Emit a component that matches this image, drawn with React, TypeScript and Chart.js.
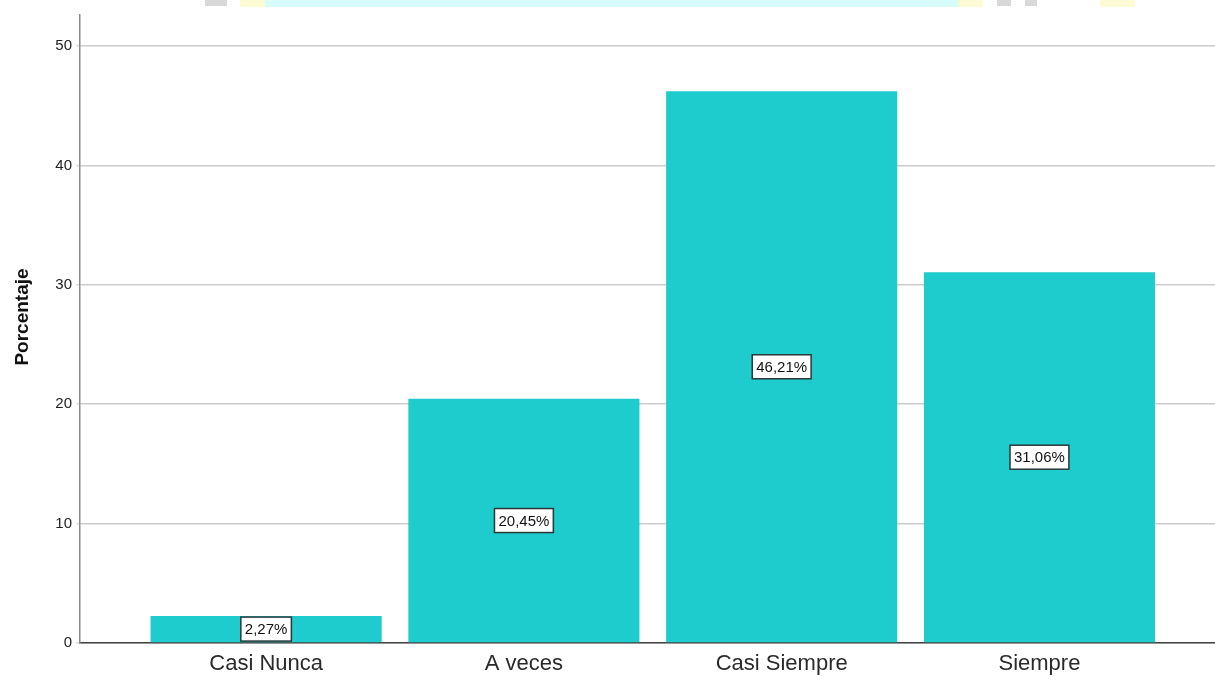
import React, { useEffect, useRef } from "react";
import { Chart, registerables } from "chart.js";

Chart.register(...registerables);

const categories = ["Casi Nunca", "A veces", "Casi Siempre", "Siempre"];
const percentages = [2.27, 20.45, 46.21, 31.06];
const positions = [1, 2, 3, 4];
const yTicks = [0, 10, 20, 30, 40, 50];
const yTitle = "Porcentaje";

const FONT = "'Liberation Sans', Arial, sans-serif";

const labelPlugin = {
  id: "barLabels",
  afterDatasetsDraw(chart: any) {
    const ctx = chart.ctx;
    const meta = chart.getDatasetMeta(0);
    ctx.save();
    ctx.font = `15px ${FONT}`;
    ctx.textAlign = "center";
    ctx.textBaseline = "middle";
    meta.data.forEach((el: any, i: number) => {
      const v = percentages[i];
      const text = v.toFixed(2).replace(".", ",") + "%";
      const cx = el.x;
      const cy = (el.y + el.base) / 2;
      const w = ctx.measureText(text).width + 8;
      const h = 24;
      ctx.fillStyle = "#ffffff";
      ctx.fillRect(cx - w / 2, cy - h / 2, w, h);
      ctx.lineWidth = 1.5;
      ctx.strokeStyle = "#2b3838";
      ctx.strokeRect(cx - w / 2, cy - h / 2, w, h);
      ctx.fillStyle = "#111111";
      ctx.fillText(text, cx, cy + 1);
    });
    ctx.restore();
  },
};

const titlePlugin = {
  id: "yTitle",
  afterDraw(chart: any) {
    const ctx = chart.ctx;
    ctx.save();
    ctx.translate(23, 317);
    ctx.rotate(-Math.PI / 2);
    ctx.font = `bold 19px ${FONT}`;
    ctx.fillStyle = "#111111";
    ctx.textAlign = "center";
    ctx.textBaseline = "middle";
    ctx.fillText(yTitle, 0, 0);
    ctx.restore();
  },
};

const watermarkPlugin = {
  id: "watermark",
  beforeDraw(chart: any) {
    const ctx = chart.ctx;
    ctx.save();
    ctx.fillStyle = "#ffffff";
    ctx.fillRect(0, 0, chart.width, chart.height);
    ctx.fillStyle = "rgba(200,250,250,0.7)";
    ctx.fillRect(265, 0, 695, 7);
    ctx.fillStyle = "rgba(253,250,200,0.8)";
    ctx.fillRect(240, 0, 25, 7);
    ctx.fillRect(958, 0, 25, 7);
    ctx.fillRect(1100, 0, 35, 7);
    ctx.fillStyle = "rgba(190,190,190,0.6)";
    ctx.fillRect(205, 0, 22, 6);
    ctx.fillRect(997, 0, 14, 6);
    ctx.fillRect(1025, 0, 12, 6);
    ctx.restore();
  },
};

export default function App() {
  const ref = useRef<HTMLCanvasElement | null>(null);

  useEffect(() => {
    document.body.style.margin = "0";
    const canvas = ref.current;
    if (!canvas) return;
    const chart = new Chart(canvas, {
      type: "bar",
      data: {
        datasets: [
          {
            data: positions.map((x, i) => ({ x, y: percentages[i] })),
            backgroundColor: "#1ecbcd",
            borderWidth: 0,
            barPercentage: 0.8965,
            categoryPercentage: 1,
          },
        ],
      },
      plugins: [watermarkPlugin, labelPlugin, titlePlugin],
      options: {
        animation: false,
        responsive: true,
        maintainAspectRatio: false,
        layout: { padding: { top: 15, left: 0, right: 0, bottom: 0 } },
        plugins: { legend: { display: false }, tooltip: { enabled: false } },
        scales: {
          x: {
            type: "linear",
            offset: false,
            min: 0.278,
            max: 4.681,
            afterFit: (s: any) => {
              s.height = 37;
            },
            afterBuildTicks: (s: any) => {
              s.ticks = positions.map((v) => ({ value: v }));
            },
            grid: { display: false, drawTicks: false, offset: false },
            border: { display: true, color: "#444444", width: 1.5 },
            ticks: {
              padding: 8,
              color: "#2a2a2a",
              font: { family: FONT, size: 22 },
              callback: (v: any) => categories[Math.round(Number(v)) - 1] ?? "",
            },
          },
          y: {
            min: 0,
            max: 52.6,
            afterFit: (s: any) => {
              s.width = 80;
            },
            afterBuildTicks: (s: any) => {
              s.ticks = yTicks.map((v) => ({ value: v }));
            },
            grid: {
              color: "#cccccc",
              lineWidth: 1.5,
              tickLength: 4,
              tickColor: "#dddddd",
            },
            border: { display: true, color: "#8a8a8a", width: 1.5 },
            ticks: {
              padding: 4,
              color: "#222222",
              font: { family: FONT, size: 15 },
            },
            title: { display: false },
          },
        },
      },
    });
    return () => chart.destroy();
  }, []);

  return (
    <div style={{ position: "fixed", left: 0, top: 0, width: 1215, height: 680, background: "#fff" }}>
      <canvas ref={ref} />
    </div>
  );
}
